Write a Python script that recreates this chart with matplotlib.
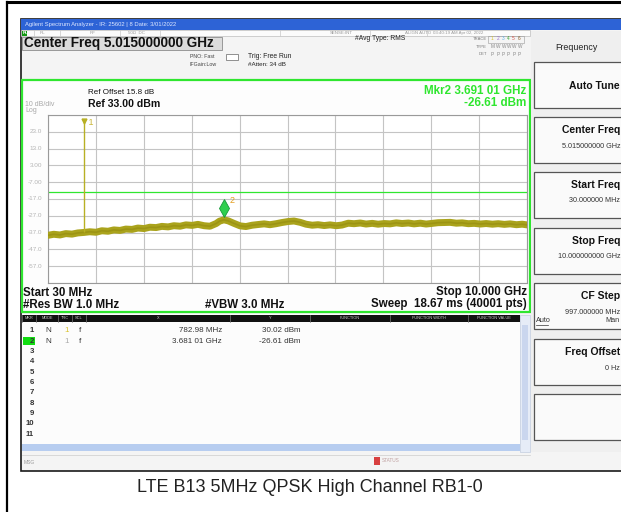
"""Spectrum analyzer screen capture: LTE B13 conducted spurious, 30 MHz - 10 GHz."""
import numpy as np
import matplotlib.pyplot as plt
from matplotlib.patches import Rectangle
import matplotlib.transforms as mtransforms

plt.rcParams['font.family'] = ['Liberation Sans', 'DejaVu Sans']

# ---- data ----
freq_ghz = [0.03, 0.15, 0.28, 0.40, 0.53, 0.65, 0.78, 0.90, 1.03, 1.15, 1.28, 1.40,
            1.53, 1.65, 1.78, 1.90, 2.03, 2.15, 2.28, 2.40, 2.53, 2.65, 2.78, 2.90,
            3.03, 3.15, 3.28, 3.40, 3.53, 3.60, 3.69, 3.78, 3.90, 4.03, 4.15, 4.28,
            4.40, 4.53, 4.65, 4.78, 4.90, 5.03, 5.15, 5.28, 5.40, 5.53, 5.65, 5.78,
            5.90, 6.03, 6.15, 6.28, 6.40, 6.53, 6.65, 6.78, 6.90, 7.03, 7.15, 7.28,
            7.40, 7.53, 7.65, 7.78, 7.90, 8.03, 8.15, 8.28, 8.40, 8.53, 8.65, 8.78,
            8.90, 9.03, 9.15, 9.28, 9.40, 9.53, 9.65, 9.78, 9.90, 10.0]
level_dbm = [-38.6, -38.0, -38.4, -37.6, -37.9, -37.2, -36.9, -36.5, -36.8, -35.9, -36.2, -35.4,
             -35.7, -34.9, -35.1, -34.3, -34.6, -33.8, -34.0, -33.3, -33.6, -32.9, -33.2, -32.4,
             -32.7, -32.1, -32.9, -33.2, -31.6, -30.2, -29.4, -30.0, -31.5, -33.0, -33.4, -32.6,
             -32.2, -31.8, -32.3, -31.7, -31.0, -30.4, -30.1, -30.9, -32.0, -32.6, -32.3, -32.8,
             -32.4, -32.9, -32.5, -31.4, -31.7, -31.3, -31.9, -31.5, -32.0, -31.6, -31.8, -31.2,
             -31.6, -31.3, -31.8, -31.4, -31.9, -31.5, -31.1, -31.0, -30.9, -31.4, -31.2, -31.7,
             -31.5, -31.9, -31.6, -32.0, -31.7, -32.1, -31.8, -32.3, -32.0, -32.4]

marker_ids = ['1', '2']
marker_freq_ghz = [0.78298, 3.69101]
marker_level_dbm = [30.02, -26.61]
table_x = ['782.98 MHz', '3.681 01 GHz']
table_y = ['30.02 dBm', '-26.61 dBm']

start_ghz, stop_ghz = 0.03, 10.0
ref_dbm = 33.0
db_per_div = 10
limit_dbm = -13.0
ytick_labels = ['23.0', '13.0', '3.00', '-7.00', '-17.0', '-27.0', '-37.0', '-47.0', '-57.0']

menu_keys = ['Auto Tune', 'Center Freq', 'Start Freq', 'Stop Freq', 'CF Step', 'Freq Offset', '']
menu_vals = ['', '5.015000000 GHz', '30.000000 MHz', '10.000000000 GHz', '997.000000 MHz', '0 Hz', '']
table_cols = ['MKR', 'MODE', 'TRC', 'SCL', 'X', 'Y', 'FUNCTION', 'FUNCTION WIDTH', 'FUNCTION VALUE']
caption = 'LTE B13 5MHz QPSK High Channel RB1-0'

W, H = 621, 512
TRACE = '#aaa31c'
GREEN = '#2fe62f'

fig = plt.figure(figsize=(W / 100, H / 100), dpi=100)
bg = fig.add_axes([0, 0, 1, 1])
bg.set_xlim(0, W)
bg.set_ylim(H, 0)
bg.axis('off')


def box(x0, y0, x1, y1, **kw):
    bg.add_patch(Rectangle((x0, y0), x1 - x0, y1 - y0, **kw))


def put(x, y, s, size, **kw):
    kw.setdefault('va', 'center')
    kw.setdefault('color', '#111111')
    bg.text(x, y, s, fontsize=size, **kw)


# page frame
bg.plot([7, 7], [2, H], color='black', lw=1.6)
bg.plot([7, W], [2, 2], color='black', lw=2.2)

# instrument window
box(21, 19, W + 2, 471, facecolor='#f4f4f4', edgecolor='#1a1a1a', lw=1.2)
box(21, 19, W + 2, 30, facecolor='#2d63d6', edgecolor='none')
put(25, 24.5, 'Agilent Spectrum Analyzer - IR: 25602 | 8 Date: 3/01/2022', 4.2, color='#dfe8ff')

# status row
box(21, 30, 530, 36, facecolor='#fbfbfb', edgecolor='#bdbdbd', lw=0.5)
box(22, 31, 27, 36, facecolor='#119911', edgecolor='none')
put(23, 33.2, 'RL', 3.2, color='white', fontweight='bold')
for x, s in [(40, 'RL'), (90, 'RF'), (128, '50Ω  DC'), (330, 'SENSE:INT'), (405, 'ALIGN AUTO'), (433, '03:40:19 AM Apr 02, 2022')]:
    put(x, 33.2, s, 3.2, color='#9a9a9a')
for x in [34, 60, 120, 160, 280, 370, 427]:
    bg.plot([x, x], [30, 36], color='#c8c8c8', lw=0.5)

box(22, 37, 222, 50, facecolor='#dcdcdc', edgecolor='#8c8c8c', lw=0.6)
put(23.5, 43.5, 'Center Freq 5.015000000 GHz', 9.8, fontweight='bold')
put(190, 57, 'PNO: Fast', 3.8, color='#444444')
put(190, 64.5, 'IFGain:Low', 3.8, color='#444444')
box(226, 54, 238, 60, facecolor='white', edgecolor='#666666', lw=0.5)
put(248, 57, 'Trig: Free Run', 4.9, color='#222222')
put(248, 64.5, '#Atten: 34 dB', 4.5, color='#222222')
put(355, 38.5, '#Avg Type: RMS', 4.9, color='#222222')
trace_cols = ['#d9c22b', '#9b6fd1', '#5fb3e8', '#39a839', '#d7564a', '#8a5c2a']
for j, (lab, vals) in enumerate([('TRACE', '123456'), ('TYPE', 'MWWWWW'), ('DET', 'PPPPPP')]):
    yy = 39 + 7.5 * j
    put(487, yy, lab, 3.0, color='#777777', ha='right')
    for k, ch in enumerate(vals):
        put(491 + 5.3 * k, yy, ch, 3.4, color=trace_cols[k] if j == 0 else '#888888')
box(488, 35.5, 524, 42.5, facecolor='none', edgecolor='#9a9a9a', lw=0.4)

# graticule frame
box(22, 80, 529.5, 312, facecolor='#fdfdfd', edgecolor=GREEN, lw=1.6)
put(88, 93, 'Ref Offset 15.8 dB', 5.8)
put(88, 104, 'Ref 33.00 dBm', 7.6, fontweight='bold')
put(25, 104, '10 dB/div', 5.0, color='#a8a8a8')
put(25, 111, 'Log', 5.0, color='#a8a8a8')
put(526, 91, 'Mkr2 3.691 01 GHz', 8.4, color=GREEN, ha='right', fontweight='bold')
put(526, 103, '-26.61 dBm', 8.4, color=GREEN, ha='right', fontweight='bold')
put(23, 292.5, 'Start 30 MHz', 8.3, fontweight='bold')
put(23, 304.5, '#Res BW 1.0 MHz', 8.3, fontweight='bold')
put(205, 304.5, '#VBW 3.0 MHz', 8.3, fontweight='bold')
put(527, 292.5, 'Stop 10.000 GHz', 8.3, fontweight='bold', ha='right')
put(527, 304.5, 'Sweep  18.67 ms (40001 pts)', 8.3, fontweight='bold', ha='right')

# spectrum trace
x0, y0, x1, y1 = 48, 115, 527, 283
ax = fig.add_axes([x0 / W, 1 - y1 / H, (x1 - x0) / W, (y1 - y0) / H])
ax.set_facecolor('white')
bottom = ref_dbm - 10 * db_per_div
ax.set_xlim(start_ghz, stop_ghz)
ax.set_ylim(bottom, ref_dbm)
ax.set_xticks(np.linspace(start_ghz, stop_ghz, 11))
ax.set_yticks(np.arange(bottom, ref_dbm + 1, db_per_div))
ax.grid(True, color='#c4c4c4', lw=0.8)
ax.tick_params(length=0, labelbottom=False, labelleft=False)
for sp in ax.spines.values():
    sp.set_color('#9a9a9a')
    sp.set_linewidth(0.8)
for k, lab in enumerate(ytick_labels):
    ax.text(-0.012, 1 - (k + 1) / 10, lab, transform=ax.transAxes, ha='right', va='center',
            fontsize=4.6, color='#b5b5b5')

ax.axhline(limit_dbm, color=GREEN, lw=0.9, zorder=2)
ax.plot(freq_ghz, level_dbm, color=TRACE, lw=5.0, solid_joinstyle='round', zorder=3)
ax.plot(freq_ghz, level_dbm, color='#9c9414', lw=1.2, zorder=3)
base = np.interp(marker_freq_ghz[0], freq_ghz, level_dbm)
ax.vlines(marker_freq_ghz[0], base, marker_level_dbm[0], color='#b8b024', lw=1.0, zorder=3)
up = mtransforms.offset_copy(ax.transData, fig=fig, x=0, y=5, units='points')
ax.plot(marker_freq_ghz[0], marker_level_dbm[0], marker='v', ms=3.5, color='#b8b024',
        transform=mtransforms.offset_copy(ax.transData, fig=fig, x=0, y=-1, units='points'), zorder=4)
ax.text(marker_freq_ghz[0], marker_level_dbm[0], ' ' + marker_ids[0], fontsize=6.5, color='#c9b63a',
        va='center', ha='left', transform=mtransforms.offset_copy(ax.transData, fig=fig, x=1, y=-2, units='points'))
ax.plot(marker_freq_ghz[1], marker_level_dbm[1], marker='d', ms=9, mfc='#2fcf4f', mec='#17993a',
        mew=0.6, transform=up, zorder=5)
ax.text(marker_freq_ghz[1], marker_level_dbm[1], marker_ids[1], fontsize=6.5, color='#e39c1c',
        transform=mtransforms.offset_copy(ax.transData, fig=fig, x=4, y=9, units='points'), zorder=5)

# marker table
box(22, 314, 520, 447, facecolor='#fcfcfc', edgecolor='none')
box(22, 315, 520, 321.5, facecolor='#111111', edgecolor='none')
col_x = [22, 36, 58, 72, 86, 230, 310, 390, 468, 520]
for k, name in enumerate(table_cols):
    bg.plot([col_x[k], col_x[k]], [315, 321.5], color='#777777', lw=0.5)
    put((col_x[k] + col_x[k + 1]) / 2, 318.3, name, 2.8, color='#cfcfcf', ha='center')
row_y0, row_dy = 331, 10.3
for i in range(11):
    yy = row_y0 + row_dy * i
    if i == 1:
        box(23, yy - 4, 35, yy + 4, facecolor='#11dd11', edgecolor='none')
    put(34, yy, str(i + 1), 5.6, ha='right', fontweight='bold', color='#333333')
for i in range(len(table_x)):
    yy = row_y0 + row_dy * i
    put(45, yy, 'N', 5.8, color='#333333')
    put(64, yy, '1', 5.8, color='#d9c22b' if i == 0 else '#aaaaaa')
    put(79, yy, 'f', 5.8, color='#333333')
    put(222, yy, table_x[i], 5.8, ha='right', color='#333333')
    put(300, yy, table_y[i], 5.8, ha='right', color='#333333')
box(520, 315, 530, 452, facecolor='#e6ecf7', edgecolor='#b8c4da', lw=0.4)
box(522, 325, 528, 440, facecolor='#cad6ee', edgecolor='none')
box(22, 444, 520, 451, facecolor='#b7cdf0', edgecolor='none')
put(24, 462, 'MSG', 3.6, color='#999999')
box(374, 457, 380, 465, facecolor='#d84040', edgecolor='none')
put(382, 461, 'STATUS', 3.4, color='#c0a0a0')
bg.plot([22, 530], [455, 455], color='#cccccc', lw=0.5)

# softkey menu
box(531, 31, W + 2, 452, facecolor='#efefef', edgecolor='none')
put(576, 47, 'Frequency', 6.4, ha='center', color='#222222')
key_top = [62, 117, 172, 228, 283, 339, 394]
for k, top in enumerate(key_top):
    box(534, top, W + 2, top + 46, facecolor='#fafafa', edgecolor='#555555', lw=0.9)
    if not menu_keys[k]:
        continue
    if menu_vals[k]:
        put(W - 1, top + 13, menu_keys[k], 7.5, ha='right', fontweight='bold')
        put(W - 1, top + 29, menu_vals[k], 5.2, ha='right', color='#333333')
    else:
        put(W - 1, top + 24, menu_keys[k], 7.5, ha='right', fontweight='bold')
top_cf = key_top[4] + 38
put(536, top_cf, 'Auto', 5.2, color='#333333')
bg.plot([536, 548], [top_cf + 3.5, top_cf + 3.5], color='#333333', lw=0.5)
put(W - 1, top_cf, 'Man', 5.2, ha='right', color='#333333')

put(310, 488, caption, 13, ha='center', color='#222222')

fig.savefig('out.png', dpi=100)
